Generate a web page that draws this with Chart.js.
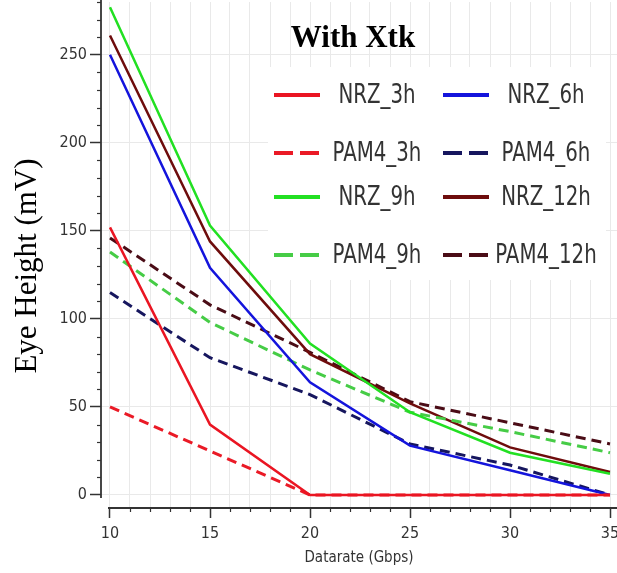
<!DOCTYPE html>
<html>
<head>
<meta charset="utf-8">
<script src="https://cdn.jsdelivr.net/npm/chart.js@4/dist/chart.umd.min.js"></script>
<style>
  html, body { margin: 0; padding: 0; background: #fff; }
  #wrap { width: 617px; height: 573px; }
</style>
</head>
<body>
<div id="wrap"><canvas id="eye" width="617" height="573"></canvas></div>
<script>
// Eye height vs. datarate, with crosstalk
var datarate = [10, 15, 20, 25, 30, 35];

var nrz3h   = [152, 40, 0, 0, 0, 0];
var nrz6h   = [250, 129, 64, 28, 14, 0];
var nrz9h   = [277, 153, 86, 47, 24, 12];
var nrz12h  = [261, 144, 80, 52, 27, 13];
var pam4_3h  = [50, 25, 0, 0, 0, 0];
var pam4_6h  = [115, 78, 57, 29, 17, 0];
var pam4_9h  = [138, 98, 71, 47, 36, 24];
var pam4_12h = [146, 108, 81, 53, 41, 29];

var xMajorTicks = [10, 15, 20, 25, 30, 35];
var yMajorTicks = [0, 50, 100, 150, 200, 250];
var xMinorStep = 1;
var yMinorStep = 10;

var AXIS = '#333333';
var GRID = '#e9e9e9';
var SANS = '"DejaVu Sans Condensed", "DejaVu Sans", sans-serif';
var SERIF = '"Liberation Serif", "DejaVu Serif", serif';

function series(label, values, color, dashed) {
    return {
        label: label,
        data: datarate.map(function(x, i) { return {x: x, y: values[i]}; }),
        borderColor: color,
        backgroundColor: color,
        borderWidth: dashed ? 3 : 2.5,
        borderDash: dashed ? [10, 6] : [],
        pointRadius: 0,
        tension: 0,
        fill: false
    };
}

// legend rows (two columns), in the order they are listed
var legendOrder = [
    ['NRZ_3h', 'NRZ_6h'],
    ['PAM4_3h', 'PAM4_6h'],
    ['NRZ_9h', 'NRZ_12h'],
    ['PAM4_9h', 'PAM4_12h']
];

function steps(from, to, step) {
    var out = [];
    for (var v = from; v <= to + 1e-9; v += step) {
        out.push({value: Math.round(v * 1000) / 1000});
    }
    return out;
}

// keep the plot box fixed: no extra room for overhanging labels
function noOverhang(scale) {
    scale.paddingLeft = 0;
    scale.paddingRight = 0;
    scale.paddingTop = 0;
    scale.paddingBottom = 0;
}

// short minor tick marks plus the two axis lines
var axisPlugin = {
    id: 'axisMarks',
    afterDraw: function(chart) {
        var ctx = chart.ctx;
        var xs = chart.scales.x, ys = chart.scales.y;
        var area = chart.chartArea;
        ctx.save();
        ctx.strokeStyle = AXIS;
        ctx.lineWidth = 1.2;
        xs.ticks.forEach(function(t) {
            if (xMajorTicks.indexOf(t.value) >= 0) return;
            var px = Math.round(xs.getPixelForValue(t.value)) + 0.5;
            ctx.beginPath();
            ctx.moveTo(px, area.bottom);
            ctx.lineTo(px, area.bottom + 4);
            ctx.stroke();
        });
        ys.ticks.forEach(function(t) {
            if (yMajorTicks.indexOf(t.value) >= 0) return;
            var py = Math.round(ys.getPixelForValue(t.value)) + 0.5;
            ctx.beginPath();
            ctx.moveTo(area.left - 4, py);
            ctx.lineTo(area.left, py);
            ctx.stroke();
        });
        ctx.lineWidth = 1.8;
        ctx.beginPath();
        ctx.moveTo(xs.getPixelForValue(9.9), area.bottom);
        ctx.lineTo(area.right, area.bottom);
        ctx.moveTo(area.left, 0);
        ctx.lineTo(area.left, ys.getPixelForValue(-1.7));
        ctx.stroke();

        // y axis title
        ctx.fillStyle = '#000';
        ctx.font = '31px ' + SERIF;
        ctx.textAlign = 'center';
        ctx.textBaseline = 'middle';
        ctx.translate(28, 266);
        ctx.rotate(-Math.PI / 2);
        ctx.fillText('Eye Height (mV)', 0, 0);
        ctx.restore();
    }
};

// boxed two-column legend and the heading inside the plot
var legendPlugin = {
    id: 'boxLegend',
    beforeDatasetsDraw: function(chart) {
        var ctx = chart.ctx;
        ctx.save();
        ctx.fillStyle = '#fff';
        ctx.fillRect(268, 67, 338, 213);
        ctx.restore();
    },
    afterDatasetsDraw: function(chart) {
        var ctx = chart.ctx;
        var byLabel = {};
        chart.data.datasets.forEach(function(d) { byLabel[d.label] = d; });
        var rowY = [95, 153, 197, 255];
        var cols = [{x0: 274, x1: 320, cx: 377}, {x0: 443, x1: 489, cx: 546}];
        ctx.save();
        ctx.font = '22px ' + SANS;
        ctx.textAlign = 'center';
        ctx.textBaseline = 'middle';
        legendOrder.forEach(function(row, r) {
            row.forEach(function(label, c) {
                var d = byLabel[label];
                var col = cols[c];
                ctx.strokeStyle = d.borderColor;
                ctx.lineWidth = 4;
                ctx.setLineDash(d.borderDash.length ? [19, 7] : []);
                ctx.beginPath();
                ctx.moveTo(col.x0, rowY[r]);
                ctx.lineTo(col.x1, rowY[r]);
                ctx.stroke();
                ctx.setLineDash([]);
                // tall, narrow lettering
                ctx.save();
                ctx.translate(col.cx, rowY[r] + 1);
                ctx.scale(1, 1.2);
                ctx.fillStyle = '#333';
                ctx.fillText(label, 0, 0);
                ctx.restore();
            });
        });
        ctx.fillStyle = '#000';
        ctx.font = 'bold 31px ' + SERIF;
        ctx.fillText('With Xtk', 353, 39);
        ctx.restore();
    }
};

new Chart(document.getElementById('eye'), {
    type: 'line',
    data: {
        datasets: [
            series('NRZ_3h', nrz3h, '#ea1522', false),
            series('PAM4_3h', pam4_3h, '#ea1a26', true),
            series('NRZ_6h', nrz6h, '#1414dc', false),
            series('PAM4_6h', pam4_6h, '#16165e', true),
            series('NRZ_9h', nrz9h, '#22e022', false),
            series('PAM4_9h', pam4_9h, '#46cc46', true),
            series('NRZ_12h', nrz12h, '#6e0c0c', false),
            series('PAM4_12h', pam4_12h, '#4a0c16', true)
        ]
    },
    options: {
        responsive: false,
        animation: false,
        layout: {padding: {top: 2, right: 0, bottom: 0, left: 0}},
        plugins: {
            legend: {display: false},
            tooltip: {enabled: false}
        },
        scales: {
            x: {
                type: 'linear',
                min: 9.55,
                max: 35.35,
                afterBuildTicks: function(scale) {
                    scale.ticks = steps(10, 35, xMinorStep);
                },
                afterFit: function(scale) {
                    scale.height = 65;
                    noOverhang(scale);
                },
                border: {display: false},
                grid: {
                    color: GRID,
                    lineWidth: 1,
                    tickLength: 10,
                    tickWidth: 1.5,
                    tickColor: function(c) {
                        return xMajorTicks.indexOf(c.tick.value) >= 0 ? AXIS : 'rgba(0,0,0,0)';
                    }
                },
                ticks: {
                    autoSkip: false,
                    maxRotation: 0,
                    padding: 6,
                    color: '#333',
                    font: {family: SANS, size: 16},
                    callback: function(v) {
                        return xMajorTicks.indexOf(v) >= 0 ? String(v) : '';
                    }
                },
                title: {
                    display: true,
                    text: 'Datarate (Gbps)',
                    color: '#333',
                    font: {family: SANS, size: 15},
                    padding: {top: 6, bottom: 6}
                }
            },
            y: {
                type: 'linear',
                min: -7.4,
                max: 280,
                afterBuildTicks: function(scale) {
                    scale.ticks = steps(0, 280, yMinorStep);
                },
                afterFit: function(scale) {
                    scale.width = 101;
                    noOverhang(scale);
                },
                border: {display: false},
                grid: {
                    lineWidth: 1,
                    tickLength: 11,
                    tickWidth: 1.5,
                    color: function(c) {
                        return yMajorTicks.indexOf(c.tick.value) >= 0 ? GRID : 'rgba(0,0,0,0)';
                    },
                    tickColor: function(c) {
                        return yMajorTicks.indexOf(c.tick.value) >= 0 ? AXIS : 'rgba(0,0,0,0)';
                    }
                },
                ticks: {
                    autoSkip: false,
                    padding: 3,
                    color: '#333',
                    font: {family: SANS, size: 16},
                    callback: function(v) {
                        return yMajorTicks.indexOf(v) >= 0 ? String(v) : '';
                    }
                }
            }
        }
    },
    plugins: [legendPlugin, axisPlugin]
});
</script>
</body>
</html>
